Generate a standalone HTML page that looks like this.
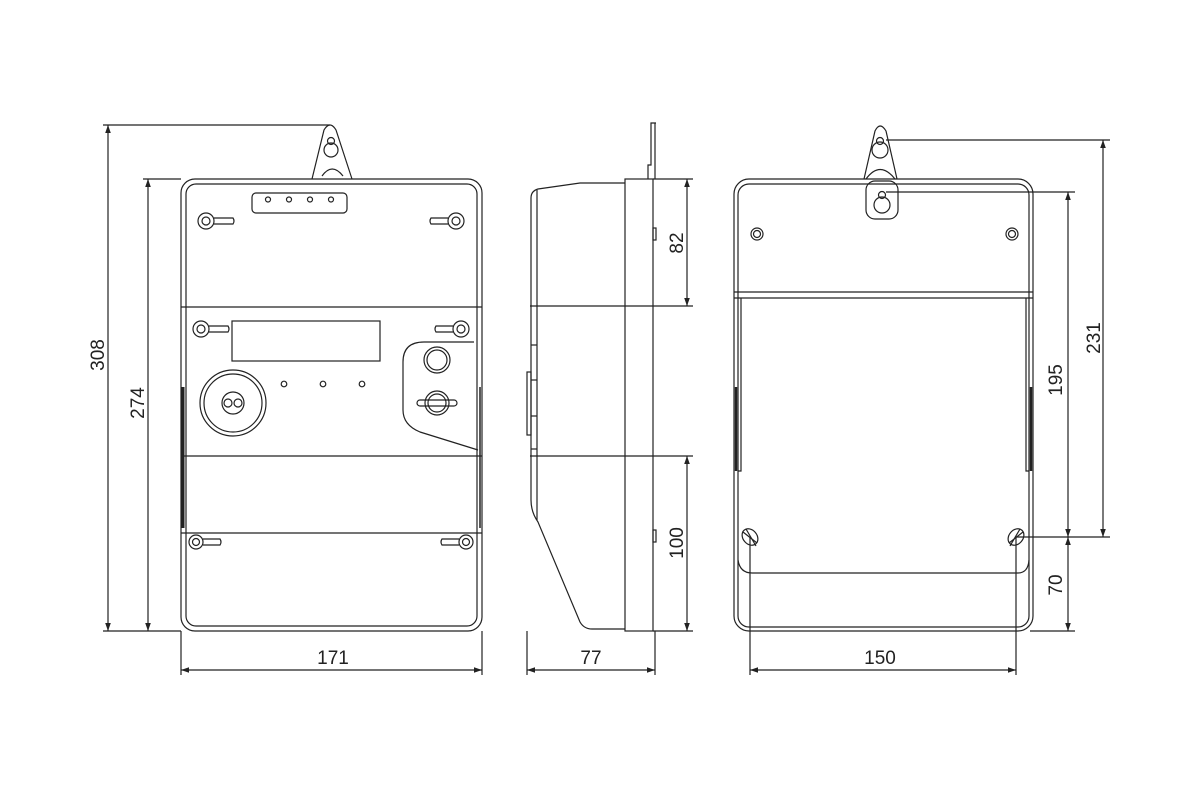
<!DOCTYPE html>
<html><head><meta charset="utf-8"><style>html,body{margin:0;padding:0;background:#fff}svg{display:block}</style></head>
<body>
<svg width="1200" height="800" viewBox="0 0 1200 800" xmlns="http://www.w3.org/2000/svg" font-family="Liberation Sans, sans-serif">
<defs>
<marker id="a" viewBox="0 0 10 10" refX="10" refY="5" markerWidth="12" markerHeight="8" orient="auto-start-reverse" markerUnits="userSpaceOnUse"><path d="M0,1.5 L10,5 L0,8.5 z" fill="#222"/></marker>
</defs>
<g fill="none" stroke="#222" stroke-width="1.2">
<!-- FRONT VIEW -->
<path d="M312,179 L324,130 Q330,120 336,130 L352,179"/>
<path d="M322,176 Q332,162 343,176"/>
<circle cx="331" cy="150" r="7"/><circle cx="331" cy="141" r="3.5"/>
<rect x="181" y="179" width="301" height="452" rx="14"/>
<rect x="186" y="184" width="291" height="442" rx="10"/>
<rect x="252" y="193" width="95" height="20" rx="4"/>
<circle cx="268" cy="199.5" r="2.5"/><circle cx="289" cy="199.5" r="2.5"/><circle cx="310" cy="199.5" r="2.5"/><circle cx="331" cy="199.5" r="2.5"/>
<circle cx="206" cy="221" r="8"/><circle cx="206" cy="221" r="4"/><path d="M214,218 H233 Q235,221 233,224 H214"/>
<circle cx="456" cy="221" r="8"/><circle cx="456" cy="221" r="4"/><path d="M448,218 H431 Q429,221 431,224 H448"/>
<line x1="181" y1="307" x2="482" y2="307"/>
<line x1="181" y1="456" x2="482" y2="456"/>
<line x1="181" y1="533" x2="482" y2="533"/>
<circle cx="201" cy="329" r="8"/><circle cx="201" cy="329" r="4"/><path d="M209,326 H228 Q230,329 228,332 H209"/>
<circle cx="461" cy="329" r="8"/><circle cx="461" cy="329" r="4"/><path d="M453,326 H436 Q434,329 436,332 H453"/>
<rect x="232" y="321" width="148" height="40"/>
<circle cx="233" cy="403" r="33"/><circle cx="233" cy="403" r="29"/><circle cx="233" cy="403" r="11"/>
<circle cx="228" cy="403" r="4"/><circle cx="238" cy="403" r="4"/>
<circle cx="284" cy="384" r="2.8"/><circle cx="323" cy="384" r="2.8"/><circle cx="362" cy="384" r="2.8"/>
<path d="M474,342 H424 Q403,342 403,362 V410 Q403,425 420,432 L478,450"/>
<circle cx="437" cy="360" r="13"/><circle cx="437" cy="360" r="10"/>
<circle cx="437" cy="403" r="12"/><circle cx="437" cy="403" r="9"/>
<rect x="417" y="400" width="40" height="6" rx="3"/>
<line x1="183" y1="387" x2="183" y2="528" stroke-width="3"/>
<line x1="480" y1="387" x2="480" y2="528" stroke-width="1.5"/>
<circle cx="196" cy="542" r="7"/><circle cx="196" cy="542" r="3.5"/><path d="M203,539 H220 Q222,542 220,545 H203"/>
<circle cx="466" cy="542" r="7"/><circle cx="466" cy="542" r="3.5"/><path d="M459,539 H442 Q440,542 442,545 H459"/>
<!-- dims front -->
<line x1="103" y1="125" x2="330" y2="125"/>
<line x1="103" y1="631" x2="181" y2="631"/>
<line x1="143" y1="179" x2="181" y2="179"/>
<line x1="108" y1="125" x2="108" y2="631" marker-start="url(#a)" marker-end="url(#a)"/>
<line x1="148" y1="179" x2="148" y2="631" marker-start="url(#a)" marker-end="url(#a)"/>
<line x1="181" y1="631" x2="181" y2="675"/><line x1="482" y1="631" x2="482" y2="675"/>
<line x1="181" y1="670" x2="482" y2="670" marker-start="url(#a)" marker-end="url(#a)"/>
<!-- SIDE VIEW -->
<path d="M648,179 V165 H651 V123 H656"/>
<line x1="655" y1="123" x2="655" y2="179"/>
<rect x="625" y="179" width="28" height="452"/>
<path d="M625,183 H580 L538,189 Q531,191 531,198 V500 Q531,512 538,522 L580,622 Q584,629 592,629 H625"/>
<line x1="537" y1="190" x2="537" y2="520"/>
<rect x="527" y="372" width="4" height="63"/>
<line x1="531" y1="345" x2="537" y2="345"/><line x1="531" y1="380" x2="537" y2="380"/><line x1="531" y1="416" x2="537" y2="416"/><line x1="531" y1="449" x2="537" y2="449"/>
<rect x="653" y="228" width="3" height="12"/><rect x="653" y="530" width="3" height="12"/>
<line x1="530" y1="306" x2="693" y2="306"/>
<line x1="530" y1="456" x2="693" y2="456"/>
<line x1="653" y1="179" x2="693" y2="179"/>
<line x1="653" y1="631" x2="693" y2="631"/>
<line x1="687" y1="179" x2="687" y2="306" marker-start="url(#a)" marker-end="url(#a)"/>
<line x1="687" y1="456" x2="687" y2="631" marker-start="url(#a)" marker-end="url(#a)"/>
<line x1="527" y1="631" x2="527" y2="675"/><line x1="655" y1="631" x2="655" y2="675"/>
<line x1="527" y1="670" x2="655" y2="670" marker-start="url(#a)" marker-end="url(#a)"/>
<!-- BACK VIEW -->
<path d="M864,179 L875,131 Q880,121 886,131 L897,179"/>
<circle cx="880" cy="150" r="8"/><circle cx="880" cy="141" r="3.5"/>
<path d="M866,179 Q880,160 895,179"/>
<rect x="866" y="181" width="32" height="38" rx="9"/>
<circle cx="882" cy="205" r="8"/><circle cx="882" cy="195" r="3.5"/>
<rect x="734" y="179" width="299" height="452" rx="15"/>
<rect x="738" y="184" width="291" height="443" rx="11"/>
<line x1="734" y1="292" x2="1033" y2="292"/>
<line x1="734" y1="298" x2="1033" y2="298"/>
<path d="M741,298 V471 H738"/><path d="M1026,298 V471 H1029"/>
<path d="M738,560 Q740,573 752,573 H1018 Q1028,573 1029,560"/>
<line x1="736" y1="387" x2="736" y2="471" stroke-width="2.5"/>
<line x1="1031" y1="387" x2="1031" y2="471" stroke-width="2.5"/>
<circle cx="757" cy="234" r="6"/><circle cx="757" cy="234" r="3.5"/>
<circle cx="1012" cy="234" r="6"/><circle cx="1012" cy="234" r="3.5"/>
<ellipse cx="750" cy="537" rx="7" ry="9" transform="rotate(-40 750 537)"/><line x1="743" y1="532" x2="757" y2="543"/><line x1="746" y1="529" x2="756" y2="546"/>
<ellipse cx="1016" cy="537" rx="7" ry="9" transform="rotate(40 1016 537)"/><line x1="1009" y1="543" x2="1023" y2="532"/><line x1="1010" y1="546" x2="1020" y2="529"/>
<line x1="886" y1="140" x2="1110" y2="140"/>
<line x1="886" y1="192" x2="1075" y2="192"/>
<line x1="1016" y1="537" x2="1110" y2="537"/>
<line x1="1030" y1="631" x2="1075" y2="631"/>
<line x1="1103" y1="140" x2="1103" y2="537" marker-start="url(#a)" marker-end="url(#a)"/>
<line x1="1068" y1="192" x2="1068" y2="537" marker-start="url(#a)" marker-end="url(#a)"/>
<line x1="1068" y1="537" x2="1068" y2="631" marker-start="url(#a)" marker-end="url(#a)"/>
<line x1="750" y1="537" x2="750" y2="675"/><line x1="1016" y1="537" x2="1016" y2="675"/>
<line x1="750" y1="670" x2="1016" y2="670" marker-start="url(#a)" marker-end="url(#a)"/>
</g>
<g fill="#222" font-size="19" text-anchor="middle">
<text transform="translate(104,355) rotate(-90)">308</text>
<text transform="translate(144,403) rotate(-90)">274</text>
<text x="333" y="664">171</text>
<text transform="translate(683,243) rotate(-90)">82</text>
<text transform="translate(683,543) rotate(-90)">100</text>
<text x="591" y="664">77</text>
<text transform="translate(1100,338) rotate(-90)">231</text>
<text transform="translate(1062,380) rotate(-90)">195</text>
<text transform="translate(1062,585) rotate(-90)">70</text>
<text x="880" y="664">150</text>
</g>
</svg>
</body></html>
